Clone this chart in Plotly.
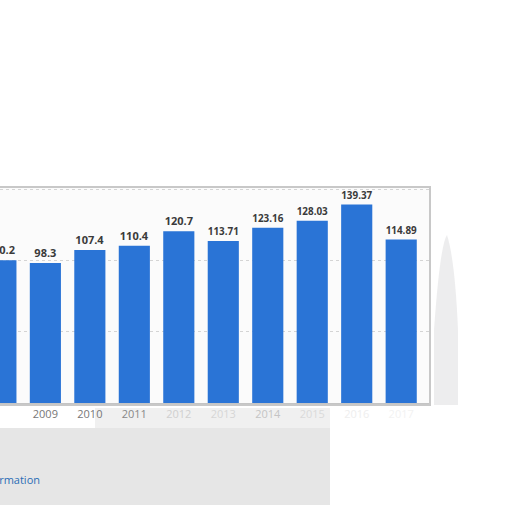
import plotly.graph_objects as go

years = [2008, 2009, 2010, 2011, 2012, 2013, 2014, 2015, 2016, 2017]
values = [100.2, 98.3, 107.4, 110.4, 120.7, 113.71, 123.16, 128.03, 139.37, 114.89]
labels = ["100.2", "98.3", "107.4", "110.4", "120.7", "113.71", "123.16", "128.03", "139.37", "114.89"]
tick_colors = ["#777", "#777", "#777", "#888", "#cfcfcf", "#d6d6d6", "#c4c4c4", "#dadada", "#eeeeee", "#f2f2f2"]

W = H = 512
def px(x):
    return x / W
def py(y):
    return 1 - y / H

fig = go.Figure()
fig.add_trace(go.Bar(
    x=years, y=values, text=labels, textposition="outside",
    textfont=dict(family="Open Sans", size=11, color="#3a3a3a", weight="bold"),
    marker=dict(color="#2a74d6", line=dict(width=0)),
    width=0.70, cliponaxis=False, hoverinfo="skip",
))

plot_left, plot_right, plot_top, plot_bottom = 0, 431, 187, 403

fig.update_layout(
    width=W, height=H,
    margin=dict(l=0, r=0, t=0, b=0),
    paper_bgcolor="white", plot_bgcolor="#fbfbfb",
    showlegend=False,
    xaxis=dict(
        domain=[px(plot_left), px(plot_right)],
        range=[2007.98, 2017.67],
        tickmode="array", tickvals=years,
        ticktext=[f'<span style="color:{c}">{y}</span>' for y, c in zip(years, tick_colors)],
        tickfont=dict(family="Open Sans", size=11, color="#777"),
        showgrid=False, showline=True, linecolor="#c4c4c4", linewidth=2,
        ticks="", fixedrange=True,
    ),
    yaxis=dict(
        domain=[py(plot_bottom), py(plot_top)],
        range=[0, 151.7],
        tickvals=[0, 50, 100, 150],
        showticklabels=False,
        showgrid=True, gridcolor="#d4d4d4", griddash="dot", gridwidth=1,
        zeroline=False, fixedrange=True,
    ),
    shapes=[
        # soft gray smudge below the chart
        dict(type="rect", xref="paper", yref="paper",
             x0=px(0), x1=px(330), y0=py(505), y1=py(428),
             fillcolor="rgba(205,205,205,0.5)", line=dict(width=0), layer="below"),
        dict(type="rect", xref="paper", yref="paper",
             x0=px(95), x1=px(330), y0=py(428), y1=py(408),
             fillcolor="rgba(205,205,205,0.3)", line=dict(width=0), layer="below"),
        # right side blur
        dict(type="path", xref="paper", yref="paper",
             path=(f"M {px(434)},{py(405)} L {px(434)},{py(330)} "
                   f"Q {px(440)},{py(245)} {px(447)},{py(235)} "
                   f"Q {px(455)},{py(260)} {px(458)},{py(330)} L {px(458)},{py(405)} Z"),
             fillcolor="rgba(195,195,200,0.3)", line=dict(width=0), layer="below"),
        # frame around plot area
        dict(type="rect", xref="paper", yref="paper",
             x0=px(-5), x1=px(430), y0=py(405), y1=py(187),
             fillcolor="rgba(0,0,0,0)", line=dict(color="#c8c8c8", width=2), layer="above"),
    ],
    annotations=[
        dict(text="Additional Information", xref="paper", yref="paper",
             x=px(42), y=py(479), xanchor="right", yanchor="middle",
             showarrow=False, font=dict(family="Open Sans", size=11, color="#2a6db5")),
    ],
)

fig.write_html("out.html", config={"displayModeBar": False},
               post_script="document.body.style.margin='0';")
